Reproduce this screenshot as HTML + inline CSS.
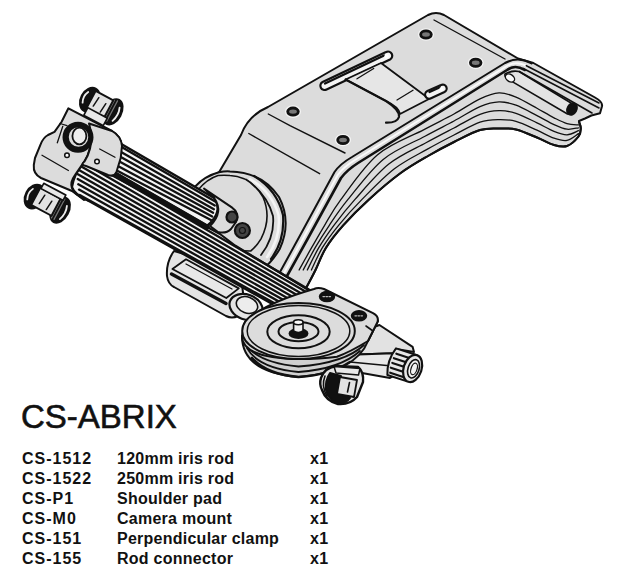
<!DOCTYPE html>
<html><head><meta charset="utf-8">
<style>
html,body{margin:0;padding:0;background:#fff;width:626px;height:579px;overflow:hidden}
svg{position:absolute;left:0;top:0}
.t{position:absolute;font-family:"Liberation Sans",sans-serif;color:#111;white-space:nowrap}
.title{left:21px;top:399px;font-size:33px;line-height:36px;-webkit-text-stroke:0.6px #111}
.row{font-size:16px;font-weight:bold;line-height:20px;letter-spacing:0.4px}
</style></head><body>
<svg width="626" height="579" viewBox="0 0 626 579">
<g stroke="#111" stroke-width="2" stroke-linejoin="round" stroke-linecap="round" fill="#dcdcdc">
<path d="M212,176 L219.2,172.1 L241,135 C245,124 254,113 268,107 L428,15 Q436,11 444,15 L518,58.5 L533.4,63 L595,97.5 Q603,102 602,106.2 L600,113.3 L591.4,115.5 L585,118.5 L579,121  C579.3,123.0 580.9,125.9 580.8,128.3 C580.7,130.7 580.8,133.6 578.5,136.5 C576.2,139.4 571.1,144.6 567.0,146.0 C562.9,147.4 559.0,146.4 554.0,145.0 C549.0,143.6 543.3,140.1 537.0,137.5 C530.7,134.9 522.3,131.0 516.0,129.5 C509.7,128.0 505.0,128.4 499.0,128.5 C493.0,128.6 487.5,127.8 480.0,130.0 C472.5,132.2 462.7,137.7 454.0,142.0 C445.3,146.3 437.0,150.8 428.0,156.0 C419.0,161.2 409.8,166.3 400.0,173.5 C390.2,180.7 378.5,190.8 369.0,199.4 C359.5,208.0 350.4,217.2 343.2,225.3 C336.0,233.4 330.6,240.2 326.0,247.7 C321.4,255.1 319.0,262.9 315.5,270.0 C312.0,277.1 306.8,286.7 305.0,290.0 L300,295 L240,265 Z"/>
<path fill="none" stroke-width="1.4" d="M434,20 L505,59 M268.3,114 L290,125.7 L345,153 M248.8,133.5 L319.6,173.7"/>
<path fill="none" stroke-width="2" d="M531.5,63.4 Q518,56 505,63 L352,157 Q340,164 334.5,172 L300,235.6 L280,272"/>
<path fill="none" stroke-width="2.6" d="M524.7,70 Q515,64 507,70 L358,163 Q347,170 341,178 L307,240 L287,276"/>
<path fill="none" stroke="#fafafa" stroke-width="2" d="M528,66.7 Q516,60 506,66.5 L355,160 Q343.5,167 337.7,175 L303.5,237.8 L283.5,274"/>
<ellipse cx="426" cy="34.5" rx="7.3" ry="5.6" fill="none" stroke="#f4f4f4" stroke-width="1.5"/>
<ellipse cx="426" cy="34.5" rx="5.3" ry="3.6" fill="#777" stroke-width="2.8"/>
<ellipse cx="475.7" cy="62.8" rx="7.3" ry="5.6" fill="none" stroke="#f4f4f4" stroke-width="1.5"/>
<ellipse cx="475.7" cy="62.8" rx="5.3" ry="3.6" fill="#777" stroke-width="2.8"/>
<ellipse cx="293" cy="111.6" rx="7.3" ry="5.6" fill="none" stroke="#f4f4f4" stroke-width="1.5"/>
<ellipse cx="293" cy="111.6" rx="5.3" ry="3.6" fill="#777" stroke-width="2.8"/>
<ellipse cx="343" cy="140" rx="7.3" ry="5.6" fill="none" stroke="#f4f4f4" stroke-width="1.5"/>
<ellipse cx="343" cy="140" rx="5.3" ry="3.6" fill="#777" stroke-width="2.8"/>
<path fill="#f4f4f4" d="M322.6,82 L386,52 A4.2,4.2 0 0 1 390,59.5 L326.6,89.5 A4.2,4.2 0 0 1 322.6,82 Z" stroke-width="2.2"/>
<path fill="none" stroke-width="2.4" d="M325,83.5 L384,55.5"/>
<path fill="#e6e6e6" stroke-width="1.8" d="M345.6,79.5 L381,63 L427.4,97.5 L429,99 L400,114 Q399,107 386,101 Z"/>
<path fill="none" stroke-width="2.2" d="M345.6,79.5 L386,101 Q400,110 399,117 Q397,123 386,122.7"/>
<path fill="none" stroke-width="1.3" d="M357,78.8 L373.7,68.5 M397,100 L413,90.3"/>
<path fill="#f4f4f4" d="M427.4,91 L441,85 A3.8,3.8 0 0 1 444.5,92 L431,98.3 A3.8,3.8 0 0 1 427.4,91 Z" stroke-width="2.2"/>
<path fill="none" stroke-width="2.2" d="M429.5,92 L440,87.2"/>
<circle cx="441.5" cy="89" r="2" fill="#fff" stroke="none"/>
<circle cx="386.5" cy="56.5" r="2.2" fill="#fff" stroke="none"/>
<path fill="#e4e4e4" d="M505,74 Q512,70 519,71.5 L571,103 L576,109 Q573,114 567.5,114 L510.5,80.6 Q504,78 505,74 Z" stroke-width="1.6"/>
<ellipse cx="510" cy="78" rx="3.5" ry="5" transform="rotate(-55 510 78)" fill="#fafafa" stroke-width="1.3"/>
<path fill="none" stroke-width="1.6" d="M526.4,65.7 L599,103 M522.8,68.3 L599,108 M519.3,71.5 L592,113"/>
<ellipse cx="572" cy="109" rx="4.5" ry="6" fill="#111" transform="rotate(30 572 109)"/>
<path fill="none" stroke-width="1.3" d="M311.4,270.0 C313.2,266.3 317.9,255.1 322.4,247.7 C326.9,240.2 332.0,233.4 338.6,225.3 C345.2,217.2 352.7,208.8 362.0,199.4 C371.3,190.0 383.6,177.1 394.4,168.8 C405.2,160.5 417.1,155.0 427.0,149.4 C436.9,143.8 445.2,139.5 454.0,135.0 C462.8,130.5 472.5,124.8 480.0,122.2 C487.5,119.6 493.0,119.7 499.0,119.6 C505.0,119.5 509.7,119.6 516.0,121.4 C522.3,123.2 530.7,127.4 537.0,130.2 C543.3,133.0 549.0,136.5 554.0,138.2 C559.0,139.9 562.9,141.2 567.0,140.4 C571.1,139.6 576.6,134.7 578.5,133.6"/>
<path fill="none" stroke-width="1.3" d="M307.3,270.0 C309.2,266.3 314.4,255.1 318.8,247.7 C323.2,240.2 327.9,233.4 333.9,225.3 C340.0,217.2 345.9,209.6 355.0,199.4 C364.1,189.2 377.0,173.5 388.8,164.1 C400.6,154.7 415.1,148.8 426.0,142.8 C436.9,136.8 445.0,132.7 454.0,128.0 C463.0,123.3 472.5,117.3 480.0,114.4 C487.5,111.5 493.0,110.9 499.0,110.7 C505.0,110.5 509.7,111.3 516.0,113.3 C522.3,115.3 530.7,119.9 537.0,122.9 C543.3,125.9 549.0,129.4 554.0,131.4 C559.0,133.4 562.9,134.9 567.0,134.8 C571.1,134.7 576.6,131.4 578.5,130.7"/>
<path fill="none" stroke-width="1.3" d="M303.2,270.0 C305.2,266.3 310.9,255.1 315.2,247.7 C319.5,240.2 323.8,233.4 329.3,225.3 C334.7,217.2 339.0,210.4 348.0,199.4 C357.0,188.4 370.4,169.9 383.2,159.4 C396.0,148.9 413.2,142.6 425.0,136.2 C436.8,129.8 444.8,125.9 454.0,121.0 C463.2,116.1 472.5,109.8 480.0,106.6 C487.5,103.4 493.0,102.0 499.0,101.8 C505.0,101.6 509.7,102.9 516.0,105.2 C522.3,107.5 530.7,112.4 537.0,115.6 C543.3,118.8 549.0,122.3 554.0,124.6 C559.0,126.9 562.9,128.7 567.0,129.2 C571.1,129.7 576.6,128.0 578.5,127.8"/>
<path fill="none" stroke-width="1.3" d="M299.1,270.0 C301.2,266.3 307.3,255.1 311.6,247.7 C315.9,240.2 319.7,233.4 324.6,225.3 C329.5,217.2 332.2,211.2 341.0,199.4 C349.8,187.6 363.8,166.3 377.6,154.7 C391.4,143.1 411.3,136.4 424.0,129.6 C436.7,122.8 444.7,119.1 454.0,114.0 C463.3,108.9 472.5,102.3 480.0,98.8 C487.5,95.3 493.0,93.2 499.0,92.9 C505.0,92.6 509.7,94.5 516.0,97.1 C522.3,99.7 530.7,104.8 537.0,108.3 C543.3,111.8 549.0,115.2 554.0,117.8 C559.0,120.3 562.9,122.4 567.0,123.6 C571.1,124.8 576.6,124.7 578.5,124.9"/>
<path fill="none" stroke-width="2" d="M305.0,290.0 C306.8,286.7 312.0,277.1 315.5,270.0 C319.0,262.9 321.4,255.1 326.0,247.7 C330.6,240.2 336.0,233.4 343.2,225.3 C350.4,217.2 359.5,208.0 369.0,199.4 C378.5,190.8 390.2,180.7 400.0,173.5 C409.8,166.3 419.0,161.2 428.0,156.0 C437.0,150.8 445.3,146.3 454.0,142.0 C462.7,137.7 472.5,132.2 480.0,130.0 C487.5,127.8 493.0,128.6 499.0,128.5 C505.0,128.4 509.7,128.0 516.0,129.5 C522.3,131.0 530.7,134.9 537.0,137.5 C543.3,140.1 549.0,143.6 554.0,145.0 C559.0,146.4 562.9,147.4 567.0,146.0 C571.1,144.6 576.2,139.4 578.5,136.5 C580.8,133.6 580.7,130.7 580.8,128.3 C580.9,125.9 579.3,123.0 579.0,122.0"/>
<path d="M230,171.4 Q262,172 279,197 Q292,222 279.7,249 Q272,262 262,270 L215,250 L190,200 L195,186.6 Q205,176 219,172.3 Q225,171 230,171.4 Z"/>
<path fill="none" stroke="#f4f4f4" stroke-width="2.5" d="M250,179 Q272,192 278.5,215 Q281,238 267,257"/>
<path fill="none" stroke-width="2.2" d="M254,176 Q277,190 283,215 Q285,240 271,259"/>
<path fill="none" stroke-width="1.8" d="M246,179.5 Q267,194 273,216 Q275,237 261,255"/>
<path d="M230,175.5 Q250,176 263,197 Q272,218 261,238.8 Q256,247 250.7,251 L215,250 L192,202 L198,190 Q207,179 218,175.5 Q224,175 230,175.5 Z" stroke-width="1.6"/>
<path d="M174,251 Q166,262 167,276 Q168,284 174,287 L226,316 Q232,319 238,316 L244,300 L240,270 Z" fill="#e4e4e4"/>
<ellipse cx="246" cy="307" rx="17" ry="12.5" transform="rotate(20 246 307)" fill="#e4e4e4" stroke-width="2.2"/>
<ellipse cx="247" cy="305" rx="11" ry="8" transform="rotate(20 247 305)" fill="#ececec" stroke-width="1.6"/>
<path fill="none" stroke-width="3.5" d="M171.5,274 L226,303.5"/>
<path fill="#e8e8e8" d="M172.4,269 L186,259.3 L238.8,288.4 L226.3,298 Z" stroke-width="1.8"/>
<path fill="none" stroke-width="1.3" d="M186,264 L232,289"/>
<path d="M68.4,108.3 L112,131 Q121,136 122,146 L120.7,158 L116.3,172.5 L110,178 L84,200 L72,191 L41,178 Q33,174 33.8,165 L35,158 L40.7,144.2 Q43,138 48,135 L54.5,131.8 L61.5,122 Z"/>
<circle cx="67" cy="155.3" r="2.3" fill="#fff" stroke-width="1.5"/>
<path fill="none" stroke-width="1.3" d="M42,155.3 L68.4,170.5 M57.3,142.8 L62.8,126.3 M60,123.5 L67,125.6"/>
<clipPath id="rc"><path d="M91.4,120 L91.4,133.8 Q92,150 84.5,161.5 L74.9,175.3 Q70,182 72,190 Q74,197 89,204.6 L300,330 L400,330 L400,100 Z"/></clipPath>
<g clip-path="url(#rc)">
<path d="M84,160 L220,234 L235,245.5 L310,291 L290,314.0 L88.5,200.8 Q74,194 72,187 Q74,175 84,160 Z" fill="#f4f4f4" stroke-width="2.2"/>
<path fill="none" stroke="#111" stroke-width="2.3" d="M74.3,152.6 L308.9,289.4 M75.0,157.9 L306.7,292.3 M75.7,163.2 L304.4,295.2 M76.3,168.5 L302.2,298.1 M77.0,173.8 L300.0,301.0 M77.7,179.0 L297.8,303.9 M78.3,184.3 L295.6,306.8 M79.0,189.6 L293.3,309.6 M79.7,194.9 L291.1,312.5"/>
</g>
<path fill="none" stroke-width="2.2" d="M91.4,133.8 Q92,150 84.5,161.5 L74.9,175.3 Q70,182 72,188 Q74,195 89,201"/>
<path d="M110,137.5 L214.2,198 Q224,212 207,226 L105,167.1 Z" fill="#f4f4f4" stroke-width="2.6"/>
<path fill="none" stroke="#111" stroke-width="2.3" d="M109.6,140.0 L215.6,201.8 M108.8,144.9 L214.8,205.5 M107.9,149.8 L213.9,209.2 M107.1,154.8 L213.1,212.8 M106.2,159.7 L212.2,216.5 M105.4,164.6 L211.4,220.2"/>
<path fill="none" stroke-width="5" d="M105,168.1 L207,227"/>
<path d="M204,188.6 L231.8,207.3 Q240,213 236,222 L231,229 Q226,234 218,232 L210,226 Q224,212 214.2,198 Z"/>
<circle cx="232" cy="217" r="5.5" fill="#444" stroke-width="2.2"/>
<circle cx="242.4" cy="230.5" r="7.5" fill="#444" stroke-width="2.2"/>
<circle cx="242.4" cy="230.5" r="3" fill="none" stroke="#111" stroke-width="1.2"/>
<path d="M89,123.5 L112,131 Q121,136 122,146 L120.7,158 L116.3,172.5 Q114,177 108,175 L86,166 Q80,165 84.5,161.5 Q92,150 91.4,133.8 Z"/>
<circle cx="97" cy="161.5" r="2.3" fill="#fff" stroke-width="1.5"/>
<path fill="none" stroke-width="1.3" d="M99.7,149 L115,157.3"/>
<circle cx="78" cy="137.3" r="14.5" fill="#111"/>
<circle cx="78.5" cy="137" r="10.5" fill="#dcdcdc" stroke-width="1.5"/>
<ellipse cx="79.4" cy="136" rx="7" ry="8.3" fill="#eee" stroke-width="1.8"/>
<g transform="translate(100,104) rotate(28)">
<ellipse cx="15.0" cy="1" rx="8.5" ry="13.5" fill="#111"/>
<path fill="none" stroke="#eee" stroke-width="1.8" d="M19.0,-6 Q22.0,1 19.0,9"/>
<path fill="none" stroke="#777" stroke-width="1.2" d="M11.0,-10 L11.0,12 M14.0,-11 L14.0,12"/>
<ellipse cx="-11.0" cy="1" rx="9" ry="12.5" fill="#111"/>
<path fill="none" stroke="#eee" stroke-width="1.8" d="M-16.0,-5 Q-19.0,1 -16.0,7"/>
<rect x="-10.0" y="-9.5" width="20" height="19.5" fill="#e2e2e2"/>
<rect x="-9.0" y="9" width="22" height="8.5" fill="#e8e8e8" stroke-width="1.6"/>
<path fill="none" stroke-width="1.5" d="M-4,-5 L-5,5 M5,-3 L4,7"/>
</g>
<g transform="translate(46,201.5) rotate(28)">
<ellipse cx="16.5" cy="1" rx="8.5" ry="13.5" fill="#111"/>
<path fill="none" stroke="#eee" stroke-width="1.8" d="M20.5,-6 Q23.5,1 20.5,9"/>
<path fill="none" stroke="#777" stroke-width="1.2" d="M12.5,-10 L12.5,12 M15.5,-11 L15.5,12"/>
<ellipse cx="-12.5" cy="1" rx="9" ry="12.5" fill="#111"/>
<path fill="none" stroke="#eee" stroke-width="1.8" d="M-17.5,-5 Q-20.5,1 -17.5,7"/>
<rect x="-11.5" y="-9.5" width="23" height="19.5" fill="#e2e2e2"/>
<rect x="-10.5" y="-15" width="25" height="6" fill="#e8e8e8" stroke-width="1.6"/>
<path fill="none" stroke-width="1.5" d="M-4,-5 L-5,5 M5,-3 L4,7"/>
</g>
<path d="M366,330 L379.4,325 L412.6,346.8 L414,352 L396,349 L393.5,353.2 L357.7,354.5 Z" fill="#e2e2e2"/>
<path d="M340,356 L357.7,354.5 L393.5,353.2 L400,372 L390,378 L345,370 Z" fill="#e8e8e8"/>
<path fill="none" stroke-width="1.3" d="M350,362 L392,366"/>
<g transform="translate(405,366) rotate(18)">
<path d="M-14,-14 L6,-14 L6,14 L-14,14 Q-19,0 -14,-14 Z" fill="#e6e6e6"/>
<path fill="none" stroke-width="2.2" d="M-12,-9 L4,-9 M-13,-4 L4,-4 M-13,1 L4,1 M-13,6 L4,6 M-12,11 L4,11"/>
<ellipse cx="8" cy="0" rx="9" ry="14" fill="#e6e6e6" stroke-width="2.2"/>
<ellipse cx="9" cy="0" rx="5.5" ry="9.5" fill="#f2f2f2" stroke-width="1.6"/>
<ellipse cx="9.5" cy="0" rx="3" ry="6" fill="none" stroke-width="1.2"/>
</g>
<path d="M242,336 Q242,372 298.5,377 Q356,372 368,341 L373,331 L378,321 L360,330 Z" fill="#d0d0d0"/>
<path fill="none" stroke-width="1.8" d="M247,348 Q258,368 298.5,372 Q340,369 360,351 M244.5,342 Q255,362 298.5,366.5 Q345,363 364,345"/>
<path fill="none" stroke-width="2.6" d="M252,358 Q266,374 298.5,377 Q330,375 350,362"/>
<path d="M245,322 Q262,304 314,289 Q318,287 324,289 L373,313.2 Q380,317 377,323 L373,331 L368,341 Q350,352 337,356.7 Q320,359 298.5,359 Q242,358 242,336 Z"/>
<path fill="none" stroke-width="1.6" d="M366,326 L373,331 L368,341"/>
<ellipse cx="298.5" cy="331" rx="56.3" ry="28"/>
<ellipse cx="298.5" cy="331" rx="51.3" ry="25.5" fill="none" stroke-width="1.5"/>
<ellipse cx="298.5" cy="331.7" rx="31.2" ry="16.5" fill="none" stroke-width="2"/>
<ellipse cx="298.5" cy="331.6" rx="20" ry="9.7" fill="none" stroke-width="2"/>
<ellipse cx="298.5" cy="333.5" rx="9" ry="4.5" fill="#111"/>
<path d="M293.6,322.3 L293.6,331 Q298.3,334 303,331 L303,322.3 Z" fill="#eee" stroke-width="1.6"/>
<ellipse cx="298.3" cy="322.3" rx="4.7" ry="2.5" fill="#fafafa" stroke-width="1.6"/>
<ellipse cx="327" cy="296.6" rx="7.5" ry="5" fill="#111" stroke-width="1.5"/>
<path fill="none" stroke="#bbb" stroke-width="1.3" stroke-dasharray="1.5 1.5" d="M323,296.6 L331,296.6"/>
<ellipse cx="359" cy="315.8" rx="7.5" ry="5" fill="#111" stroke-width="1.5"/>
<path fill="none" stroke="#bbb" stroke-width="1.3" stroke-dasharray="1.5 1.5" d="M355,315.8 L363,315.8"/>
<path d="M321,378 Q324,368 336,366 L358,367 Q364,372 363,382 L357,397 Q350,405 338,404 Q326,401 322,390 Q319,384 321,378 Z" fill="#e6e6e6" stroke-width="2.4"/>
<path d="M330,373 L341,376 L338,393 L350,398 Q346,404 337,403 Q328,399 326,390 Q325,380 330,373 Z" fill="#111"/>
<path fill="none" stroke-width="1.6" d="M325,376 Q321,386 327,396"/>
<path d="M334,366.5 L360,368.5 L358.5,375 L336,373 Z" fill="#e8e8e8" stroke-width="1.5"/>
<path d="M340,377 L357,380 L354,397 L337,394 Z" fill="#e2e2e2" stroke-width="1.8"/>
<path fill="none" stroke-width="1.6" d="M349.5,382.5 L347.5,392"/>
</g>
</svg>
<div class="t title">CS-ABRIX</div>
<div class="t row" style="left:22px;top:449px;letter-spacing:1px">CS-1512<br>CS-1522<br>CS-P1<br>CS-M0<br>CS-151<br>CS-155</div>
<div class="t row" style="left:117px;top:449px;letter-spacing:0.25px">120mm iris rod<br>250mm iris rod<br>Shoulder pad<br>Camera mount<br>Perpendicular clamp<br>Rod connector</div>
<div class="t row" style="left:310px;top:449px">x1<br>x1<br>x1<br>x1<br>x1<br>x1</div>
</body></html>
